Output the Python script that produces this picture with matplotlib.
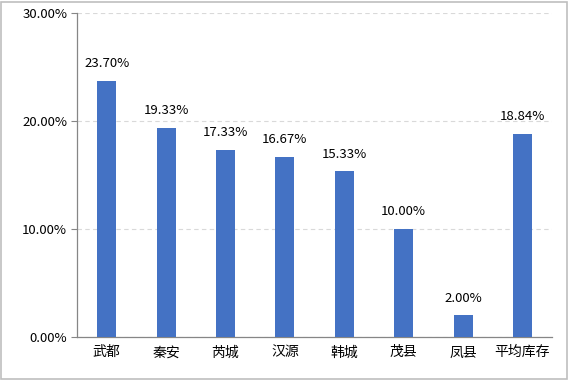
import matplotlib.pyplot as plt
from matplotlib.ticker import FuncFormatter
from matplotlib.patches import Rectangle

plt.rcParams['font.family'] = ['Noto Sans CJK SC', 'DejaVu Sans']

categories = ['武都', '秦安', '芮城', '汉源', '韩城', '茂县', '凤县', '平均库存']
values = [23.70, 19.33, 17.33, 16.67, 15.33, 10.00, 2.00, 18.84]

fig = plt.figure(figsize=(5.69, 3.80), dpi=100)
ax = fig.add_axes([0.1353, 0.113, 0.835, 0.853])

x = range(len(categories))
ax.bar(x, values, width=0.32, color='#4472C4', zorder=3)
for i, v in zip(x, values):
    ax.text(i, v + 1.0, '%.2f%%' % v, ha='center', va='bottom', fontsize=9.5, color='black')

ax.set_xlim(-0.5, len(categories) - 0.5)
ax.set_ylim(0, 30)
ax.set_yticks([0, 10, 20, 30])
ax.yaxis.set_major_formatter(FuncFormatter(lambda v, p: '%.2f%%' % v))
ax.set_xticks(list(x))
ax.set_xticklabels(categories, fontsize=10, color='black')
ax.tick_params(axis='x', length=0, pad=6)
ax.tick_params(axis='y', length=4, color='#868686', labelsize=9.5, labelcolor='black', pad=3)
ax.grid(axis='y', linestyle=(0, (4, 3)), color='#d9d9d9', linewidth=0.8, zorder=0)

for s in ['top', 'right']:
    ax.spines[s].set_visible(False)
for s in ['left', 'bottom']:
    ax.spines[s].set_color('#868686')
    ax.spines[s].set_linewidth(0.9)

fig.patches.append(Rectangle((0.002, 0.003), 0.995, 0.993, transform=fig.transFigure,
                             fill=False, edgecolor='#bfbfbf', linewidth=1.2))

fig.savefig('out.png', dpi=100)
